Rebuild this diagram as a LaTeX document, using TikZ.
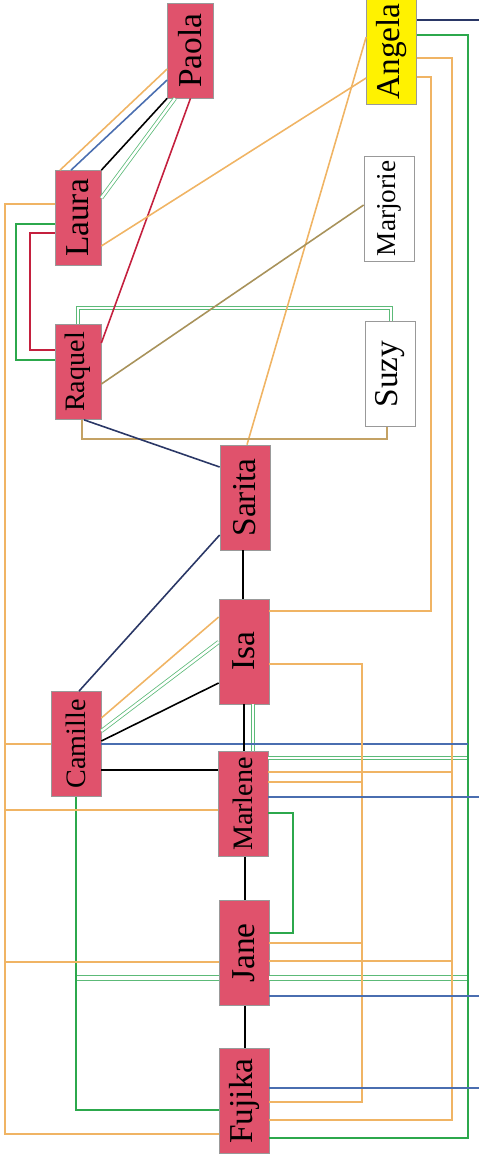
\documentclass[tikz,border=0pt]{standalone}
\usepackage{fontspec}
\setmainfont{Liberation Serif}
\usepackage{graphicx}
\usepackage{tikz}
\definecolor{rose}{HTML}{E0526C}
\definecolor{peach}{HTML}{F0B464}
\definecolor{tanline}{HTML}{C4A264}
\definecolor{oliveline}{HTML}{A8925A}
\definecolor{leaf}{HTML}{2CA84C}
\definecolor{mint}{HTML}{5CBA78}
\definecolor{navy}{HTML}{2A3766}
\definecolor{steel}{HTML}{4A6EB0}
\definecolor{crimson}{HTML}{C4203E}

\begin{document}
\begin{tikzpicture}[x=0.02cm,y=-0.02cm,
  friend/.style={draw=gray!80,fill=rose,inner sep=0pt,minimum width=1cm,minimum height=2.1cm,font=\fontsize{19}{19}\selectfont},
  slim/.style={minimum width=0.92cm,minimum height=1.9cm},
  smaller/.style={font=\fontsize{16}{16}\selectfont},
  guest/.style={friend,fill=white},
  tie/.style={line width=0.9pt},
  twin/.style={draw=mint,line width=0.45pt,double=white,double distance=1.4pt}]
  \useasboundingbox (0,0) rectangle (479,1157);
  \node[friend,slim] (paola) at (190.5,50.5) {\rotatebox{90}{Paola}};
  \node[friend,fill=yellow] (angela) at (391.5,51.5) {\rotatebox{90}{Angela}};
  \node[friend,slim] (laura) at (78,218) {\rotatebox{90}{Laura}};
  \node[guest,font=\fontsize{15.5}{16}\selectfont] (marjorie) at (389,208.5) {\rotatebox{90}{Marjorie}};
  \node[friend,slim,smaller] (raquel) at (78,372) {\rotatebox{90}{Raquel}};
  \node[guest] (suzy) at (390,374) {\rotatebox{90}{Suzy}};
  \node[friend] (sarita) at (245,497.5) {\rotatebox{90}{Sarita}};
  \node[friend] (isa) at (244,651.5) {\rotatebox{90}{Isa}};
  \node[friend,smaller] (camille) at (76,744) {\rotatebox{90}{Camille}};
  \node[friend,smaller] (marlene) at (243,804) {\rotatebox{90}{Marlene}};
  \node[friend] (jane) at (244,953) {\rotatebox{90}{Jane}};
  \node[friend] (fujika) at (244,1101) {\rotatebox{90}{Fujika}};
  % vertical lanes and the right rim
  \coordinate (lbus) at (5,0);
  \coordinate (mbus) at (362,0);
  \coordinate (obus) at (452,0);
  \coordinate (gbus) at (468,0);
  \coordinate (rim) at (479,0);
  % double green ties first
  \draw[twin] (paola.south -| 175,0) -- (laura.east |- 0,198);
  \draw[twin] (raquel.north -| 78,0) |- (391,308) -- (suzy.north -| 391,0);
  \draw[twin] (camille.east |- 0,731) -- (isa.west |- 0,642);
  \draw[twin] (isa.south -| 253,0) -- (marlene.north -| 253,0);
  \draw[twin] (marlene.east |- 0,758) -- (gbus |- 0,758);
  \draw[twin,double distance=2.2pt] (jane.east |- 0,978) -- (gbus |- 0,978);
  \draw[twin,double distance=2.2pt] (jane.west |- 0,978) -- (camille.south |- 0,978);
  % Paola
  \draw[tie,peach] (paola.west |- 0,69) -- (laura.north -| 60,0);
  \draw[tie,steel] (paola.west |- 0,80) -- (laura.north -| 71,0);
  \draw[tie] (paola.south west) -- (laura.north east);
  \draw[tie,crimson] (paola.south) -- (raquel.east |- 0,343);
  % Angela
  \draw[tie,peach] (angela.west |- 0,37) -- (sarita.north -| 247,0);
  \draw[tie,peach] (angela.west |- 0,78) -- (laura.east |- 0,246);
  \draw[tie,navy] (angela.east |- 0,20) -- (rim |- 0,20);
  \draw[tie,leaf] (angela.east |- 0,35) -| (gbus |- 0,1138) -- (fujika.east |- 0,1138);
  \draw[tie,peach] (angela.east |- 0,58) -| (obus |- 0,1120) -- (fujika.east |- 0,1120);
  \draw[tie,peach] (angela.east |- 0,77) -| (431,611) -- (isa.east |- 0,611);
  % Laura
  \draw[tie,peach] (laura.west |- 0,204) -| (lbus |- 0,1134) -- (fujika.west |- 0,1134);
  \draw[tie,leaf] (laura.west |- 0,224) -| (16,360) -- (raquel.west |- 0,360);
  \draw[tie,crimson] (laura.west |- 0,233) -| (30,350) -- (raquel.west |- 0,350);
  % Raquel
  \draw[tie,tanline] (raquel.south -| 82,0) |- (387,439) -- (suzy.south -| 387,0);
  \draw[tie,oliveline] (raquel.east |- 0,384) -- (marjorie.west |- 0,205);
  \draw[tie,navy] (raquel.south -| 84,0) -- (sarita.west |- 0,467);
  % Sarita
  \draw[tie,navy] (sarita.west |- 0,535) -- (camille.north -| 79,0);
  \draw[tie] (sarita.south -| 243,0) -- (isa.north -| 243,0);
  % Camille
  \draw[tie,peach] (camille.east |- 0,718) -- (isa.west |- 0,617);
  \draw[tie] (camille.east |- 0,741) -- (isa.west |- 0,683);
  \draw[tie,steel] (camille.east |- 0,744) -- (gbus |- 0,744);
  \draw[tie] (camille.east |- 0,770) -- (marlene.west |- 0,770);
  \draw[tie,peach] (camille.west |- 0,744) -- (lbus |- 0,744);
  \draw[tie,leaf] (camille.south) |- (fujika.west |- 0,1110);
  % Isa
  \draw[tie] (isa.south -| 244,0) -- (marlene.north -| 244,0);
  \draw[tie,peach] (isa.east |- 0,664) -| (mbus |- 0,1102) -- (fujika.east |- 0,1102);
  % Marlene
  \draw[tie,peach] (marlene.east |- 0,772) -- (obus |- 0,772);
  \draw[tie,peach] (marlene.east |- 0,782) -- (mbus |- 0,782);
  \draw[tie,steel] (marlene.east |- 0,797) -- (rim |- 0,797);
  \draw[tie,leaf] (marlene.east |- 0,813) -| (293,933) -- (jane.east |- 0,933);
  \draw[tie,peach] (marlene.west |- 0,810) -- (lbus |- 0,810);
  \draw[tie] (marlene.south -| 245,0) -- (jane.north -| 245,0);
  % Jane
  \draw[tie,peach] (jane.east |- 0,943) -- (mbus |- 0,943);
  \draw[tie,peach] (jane.east |- 0,961) -- (obus |- 0,961);
  \draw[tie,peach] (jane.west |- 0,962) -- (lbus |- 0,962);
  \draw[tie,steel] (jane.east |- 0,996) -- (rim |- 0,996);
  \draw[tie] (jane.south -| 245,0) -- (fujika.north -| 245,0);
  % Fujika
  \draw[tie,steel] (fujika.east |- 0,1088) -- (rim |- 0,1088);
\end{tikzpicture}
\end{document}
